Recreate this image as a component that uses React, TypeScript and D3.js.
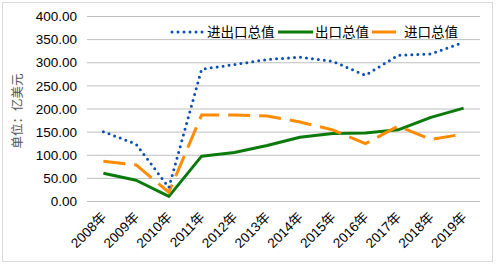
import React from "react";
import * as d3 from "d3";

const years = ["2008年","2009年","2010年","2011年","2012年","2013年","2014年","2015年","2016年","2017年","2018年","2019年"];
const total = [151, 124, 30, 286, 296, 307, 312, 303, 273, 316, 319, 344];
const exportsV = [61, 46, 11, 98, 106, 121, 139, 147, 148, 155, 182, 202];
const importsV = [87, 79, 20, 187, 187, 185, 172, 155, 125, 163, 134, 146];
const yTicks = [0, 50, 100, 150, 200, 250, 300, 350, 400];

const W = 496, H = 265;
const left = 87, right = 480, top = 16.5, bottom = 201.5;

export default function App() {
  const x = d3.scaleBand().domain(years).range([left, right]);
  const y = d3.scaleLinear().domain([0, 400]).range([bottom, top]);
  const px = (i: number) => (x(years[i]) as number) + x.bandwidth() / 2;
  const line = d3.line<number>().x((_, i) => px(i)).y(d => y(d));
  const font = "'Liberation Sans', Arial, sans-serif";
  const cjk = "'Noto Sans CJK SC', sans-serif";
  return (
    <svg width={W} height={H} style={{ position: "absolute", left: 0, top: 0 }}>
      <rect x={0} y={0} width={W} height={H} fill="#fff" />
      <rect x={2.5} y={2.5} width={490} height={259} fill="none" stroke="#D9D9D9" />
      {yTicks.map(t => (
        <g key={t}>
          <line x1={left} x2={right} y1={y(t)} y2={y(t)} stroke="#BFBFBF" strokeWidth={1} />
          <text x={77} y={y(t)} dy="0.35em" textAnchor="end" fontFamily={font} fontSize={13.5} fill="#000">{t.toFixed(2)}</text>
        </g>
      ))}
      <text transform={`translate(22,111) rotate(-90)`} textAnchor="middle" fontFamily={cjk} fontSize={12.5} fill="#555">单位：亿美元</text>
      {years.map((yr, i) => (
        <text key={yr} transform={`translate(${px(i) + 4},${218}) rotate(-45)`} textAnchor="end" fontFamily={font} fontSize={13.5} fill="#000">
          {yr.slice(0, 4)}<tspan fontFamily={cjk}>年</tspan>
        </text>
      ))}
      <path d={line(exportsV) || ""} fill="none" stroke="#0B7A0B" strokeWidth={3} strokeLinejoin="round" />
      <path d={line(importsV) || ""} fill="none" stroke="#FF8C00" strokeWidth={3} strokeDasharray="22 9" />
      <path d={line(total) || ""} fill="none" stroke="#0A4FB5" strokeWidth={3} strokeDasharray="0 6" strokeLinecap="round" />
      {/* legend */}
      <line x1={172} x2={205} y1={32} y2={32} stroke="#0A4FB5" strokeWidth={3} strokeDasharray="0 6" strokeLinecap="round" />
      <text x={207} y={32} dy="0.36em" fontFamily={cjk} fontSize={13.5} fill="#000">进出口总值</text>
      <line x1={278} x2={313} y1={32} y2={32} stroke="#0B7A0B" strokeWidth={3} />
      <text x={315} y={32} dy="0.36em" fontFamily={cjk} fontSize={13.5} fill="#000">出口总值</text>
      <line x1={372} x2={396} y1={32} y2={32} stroke="#FF8C00" strokeWidth={3} />
      <text x={404} y={32} dy="0.36em" fontFamily={cjk} fontSize={13.5} fill="#000">进口总值</text>
    </svg>
  );
}
